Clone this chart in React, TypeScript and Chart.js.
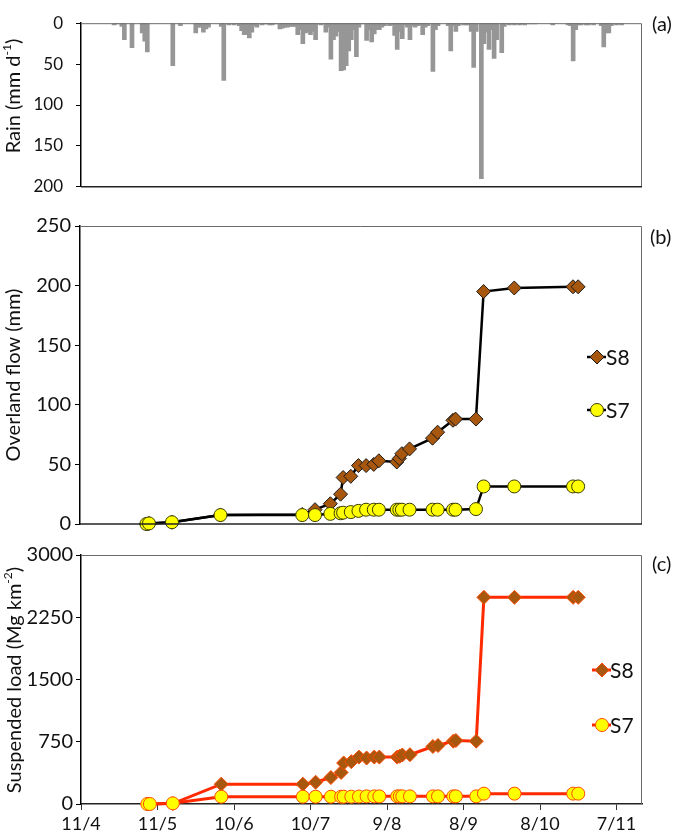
import React, { useEffect, useRef } from "react";
import { Chart, registerables } from "chart.js";
Chart.register(...registerables);

// ---- X axis (days since 11/4) ----
const xTickDays = [0, 30, 60, 90, 120, 150, 180, 210];
const xTickLabels = ["11/4", "11/5", "10/6", "10/7", "9/8", "8/9", "8/10", "7/11"];
const xMax = 220;

// ---- (a) daily rain ----
const rainDays = [13, 14, 16, 17, 20, 24, 25, 26, 36, 39, 45, 46, 47, 48, 49, 50, 55, 56, 58, 60, 62, 63, 64, 65, 66, 67, 68, 69, 71, 72, 73, 74, 75, 76, 78, 79, 80, 81, 82, 83, 84, 85, 86, 87, 88, 89, 90, 91, 92, 94, 96, 97, 98, 99, 100, 101, 102, 103, 104, 105, 106, 107, 108, 109, 110, 112, 113, 114, 115, 116, 117, 118, 119, 121, 122, 123, 124, 125, 126, 127, 128, 129, 130, 131, 132, 133, 134, 135, 136, 138, 139, 140, 144, 145, 146, 147, 148, 150, 151, 152, 153, 154, 155, 157, 158, 159, 160, 161, 162, 163, 165, 166, 168, 169, 170, 172, 173, 174, 176, 178, 185, 191, 192, 193, 194, 195, 196, 198, 199, 201, 204, 205, 206, 207, 208, 210, 212];
const rainMm = [2, 1, 4, 20, 30, 12, 22, 35, 52, 3, 12, 5, 5, 11, 7, 5, 4, 70, 2, 2, 3, 9, 14, 14, 18, 11, 3, 5, 2, 1, 1, 2, 2, 1, 7, 6, 5, 5, 4, 4, 4, 14, 8, 25, 12, 11, 14, 10, 20, 2, 11, 5, 44, 20, 16, 10, 58, 57, 52, 34, 20, 8, 41, 5, 1, 21, 8, 23, 13, 8, 8, 5, 3, 3, 2, 15, 32, 10, 19, 2, 5, 20, 3, 5, 3, 2, 14, 5, 3, 59, 8, 3, 3, 34, 3, 10, 3, 2, 2, 2, 10, 54, 10, 190, 25, 11, 32, 8, 43, 20, 36, 4, 2, 1, 2, 2, 1, 2, 1, 1, 2, 2, 3, 46, 8, 2, 2, 2, 2, 2, 3, 29, 12, 12, 3, 2, 2];

// ---- (b),(c) sampling dates ----
const sampleDays = [26, 27, 36, 55, 87, 92, 98, 102, 103, 106, 109, 112, 115, 117, 124, 125, 126, 129, 138, 140, 146, 147, 155, 158, 170, 193, 195];
// (b) overland flow, mm
const flowS8 = [0, 0.5, 1.5, 7.5, 8, 12, 17, 25, 39, 40, 49, 49, 50, 53, 52, 55, 59, 63, 72, 77, 87, 88, 88, 195, 198, 199, 199];
const flowS7 = [0, 0.5, 1.5, 7.5, 7.5, 7.5, 8.5, 9, 9.5, 10, 11, 12, 12, 12, 12, 12, 12, 12, 12, 12, 12, 12, 12.5, 31.5, 31.5, 31.5, 31.5];
// (c) suspended load, Mg km-2
const loadS8 = [0, 0, 5, 239, 239, 262, 319, 380, 494, 510, 565, 554, 565, 565, 565, 575, 590, 594, 693, 705, 757, 765, 757, 2490, 2490, 2490, 2490];
const loadS7 = [0, 0, 8, 88, 88, 88, 88, 88, 88, 88, 90, 92, 92, 92, 92, 92, 92, 92, 92, 92, 92, 92, 92, 125, 125, 125, 125];

const FONT = "Lato, 'Open Sans', sans-serif";
const TXT = "#111";
const BROWN = "#A8570F";
const YELLOW = "#FFFF00";
const RED = "#FF2A00";

type Seg = { t: string; sup?: boolean };
type LegItem = { label: string; y: number; kind: "diamond" | "circle"; fill: string; stroke: string; line: string; lw: number };
type Decor = {
  title: Seg[]; titleX: number; titleY: number; titleSize: number;
  tag: string; tagX: number; tagY: number;
  boxBottom: boolean;
  legend?: { items: LegItem[]; x1: number; x2: number; mx: number; tx: number };
};

function marker(ctx: CanvasRenderingContext2D, kind: string, x: number, y: number, fill: string, stroke: string) {
  ctx.beginPath();
  if (kind === "diamond") {
    const r = 7;
    ctx.moveTo(x - r, y); ctx.lineTo(x, y - r); ctx.lineTo(x + r, y); ctx.lineTo(x, y + r); ctx.closePath();
  } else {
    ctx.arc(x, y, 6.5, 0, Math.PI * 2);
  }
  ctx.fillStyle = fill; ctx.fill();
  ctx.strokeStyle = stroke; ctx.lineWidth = 1; ctx.stroke();
}

function makeDecor(d: Decor) {
  return {
    id: "decor",
    afterDraw(chart: any) {
      const ctx: CanvasRenderingContext2D = chart.ctx;
      const a = chart.chartArea;
      ctx.save();
      // box
      ctx.strokeStyle = "#6a6a6a"; ctx.lineWidth = 1;
      ctx.beginPath();
      ctx.moveTo(a.left, a.top + 0.5);
      ctx.lineTo(a.right - 0.5, a.top + 0.5);
      ctx.lineTo(a.right - 0.5, a.bottom);
      ctx.stroke();
      if (d.boxBottom) {
        ctx.strokeStyle = "#222"; ctx.lineWidth = 1.5;
        ctx.beginPath(); ctx.moveTo(a.left, a.bottom); ctx.lineTo(a.right, a.bottom); ctx.stroke();
      }
      // rotated title with superscripts
      const big = `${d.titleSize}px ${FONT}`;
      const small = `${Math.round(d.titleSize * 0.62)}px ${FONT}`;
      ctx.translate(d.titleX, d.titleY);
      ctx.rotate(-Math.PI / 2);
      let total = 0;
      for (const s of d.title) { ctx.font = s.sup ? small : big; total += ctx.measureText(s.t).width; }
      let x = -total / 2;
      ctx.fillStyle = TXT; ctx.textBaseline = "middle"; ctx.textAlign = "left";
      for (const s of d.title) {
        ctx.font = s.sup ? small : big;
        ctx.fillText(s.t, x, s.sup ? -d.titleSize * 0.33 : 0);
        x += ctx.measureText(s.t).width;
      }
      ctx.setTransform(1, 0, 0, 1, 0, 0);
      // panel tag
      ctx.font = `20px ${FONT}`; ctx.fillStyle = TXT; ctx.textAlign = "left"; ctx.textBaseline = "middle";
      ctx.fillText(d.tag, d.tagX, d.tagY);
      // legend
      if (d.legend) {
        const L = d.legend;
        for (const it of L.items) {
          ctx.strokeStyle = it.line; ctx.lineWidth = it.lw;
          ctx.beginPath(); ctx.moveTo(L.x1, it.y); ctx.lineTo(L.x2, it.y); ctx.stroke();
          marker(ctx, it.kind, L.mx, it.y, it.fill, it.stroke);
          ctx.font = `21px ${FONT}`; ctx.fillStyle = TXT; ctx.textAlign = "left"; ctx.textBaseline = "middle";
          ctx.fillText(it.label, L.tx, it.y + 1);
        }
      }
      ctx.restore();
    },
  };
}

function yAxis(min: number, max: number, step: number, width: number, pad: number, size: number, reverse = false) {
  return {
    min, max, reverse,
    ticks: { stepSize: step, padding: pad, color: TXT, font: { family: FONT, size }, callback: (v: any) => String(v) },
    grid: { drawOnChartArea: false, drawTicks: true, tickLength: 5, color: "#000", tickColor: "#000" },
    border: { color: "#000", width: 1.5 },
    afterFit: (s: any) => { s.width = width; },
  };
}

function hiddenX() {
  return { type: "linear", min: 0, max: xMax, display: false, offset: false };
}

function configA(): any {
  return {
    type: "bar",
    data: {
      datasets: [{
        data: rainDays.map((d, i) => ({ x: d, y: rainMm[i] })),
        backgroundColor: "#969696", borderWidth: 0, barThickness: 4,
      }],
    },
    options: {
      responsive: false, animation: false, devicePixelRatio: 1,
      layout: { padding: { top: 13, bottom: 11, left: 0, right: 33 } },
      plugins: { legend: { display: false }, tooltip: { enabled: false } },
      scales: { x: hiddenX(), y: yAxis(0, 200, 50, 81, 13, 17, true) },
    },
    plugins: [makeDecor({
      title: [{ t: "Rain (mm d" }, { t: "-1", sup: true }, { t: ")" }],
      titleX: 14, titleY: 96, titleSize: 20,
      tag: "(a)", tagX: 652, tagY: 25, boxBottom: true,
    })],
  };
}

function lineSet(days: number[], vals: number[], kind: "diamond" | "circle", lineColor: string, ptStroke: string, lw: number) {
  return {
    data: days.map((d, i) => ({ x: d, y: vals[i] })),
    borderColor: lineColor, borderWidth: lw, tension: 0, clip: false,
    pointStyle: kind === "diamond" ? "rectRot" : "circle",
    pointRadius: kind === "diamond" ? 7 : 6.5,
    pointBackgroundColor: kind === "diamond" ? BROWN : YELLOW,
    pointBorderColor: ptStroke, pointBorderWidth: 1,
  };
}

function configB(): any {
  return {
    type: "line",
    data: {
      datasets: [
        lineSet(sampleDays, flowS7, "circle", "#000", "#3a3a00", 2.5),
        lineSet(sampleDays, flowS8, "diamond", "#000", "#1a1a1a", 2.5),
      ],
    },
    options: {
      responsive: false, animation: false, devicePixelRatio: 1,
      layout: { padding: { top: 15, bottom: 14, left: 0, right: 33 } },
      plugins: { legend: { display: false }, tooltip: { enabled: false } },
      scales: { x: hiddenX(), y: yAxis(0, 250, 50, 80, 4, 20) },
    },
    plugins: [makeDecor({
      title: [{ t: "Overland flow (mm)" }],
      titleX: 14, titleY: 165, titleSize: 20,
      tag: "(b)", tagX: 650, tagY: 28, boxBottom: true,
      legend: {
        x1: 587, x2: 606, mx: 597, tx: 606,
        items: [
          { label: "S8", y: 147, kind: "diamond", fill: BROWN, stroke: "#1a1a1a", line: "#000", lw: 2.5 },
          { label: "S7", y: 200, kind: "circle", fill: YELLOW, stroke: "#3a3a00", line: "#000", lw: 2.5 },
        ],
      },
    })],
  };
}

function configC(): any {
  return {
    type: "line",
    data: {
      datasets: [
        lineSet(sampleDays, loadS7, "circle", RED, "#FF4A00", 3),
        lineSet(sampleDays, loadS8, "diamond", RED, "#FF4A00", 3),
      ],
    },
    options: {
      responsive: false, animation: false, devicePixelRatio: 1,
      layout: { padding: { top: 13, bottom: 0, left: 0, right: 33 } },
      plugins: { legend: { display: false }, tooltip: { enabled: false } },
      scales: {
        x: {
          type: "linear", min: 0, max: xMax, offset: false,
          afterBuildTicks: (s: any) => { s.ticks = xTickDays.map((v) => ({ value: v })); },
          ticks: {
            padding: 3, color: TXT, font: { family: FONT, size: 18 }, maxRotation: 0, autoSkip: false,
            callback: (v: any) => xTickLabels[xTickDays.indexOf(Number(v))] ?? "",
          },
          grid: { drawOnChartArea: false, drawTicks: true, tickLength: 6, color: "#333", tickColor: "#333" },
          border: { color: "#222", width: 1.5 },
          afterFit: (s: any) => { s.height = 34; },
        },
        y: yAxis(0, 3000, 750, 81, 3, 20),
      },
    },
    plugins: [makeDecor({
      title: [{ t: "Suspended load (Mg km" }, { t: "-2", sup: true }, { t: ")" }],
      titleX: 15, titleY: 140, titleSize: 20,
      tag: "(c)", tagX: 652, tagY: 25, boxBottom: false,
      legend: {
        x1: 592, x2: 611, mx: 602, tx: 610,
        items: [
          { label: "S8", y: 130, kind: "diamond", fill: BROWN, stroke: "#FF4A00", line: RED, lw: 3 },
          { label: "S7", y: 185, kind: "circle", fill: YELLOW, stroke: "#FF4A00", line: RED, lw: 3 },
        ],
      },
    })],
  };
}

function Panel({ top, height, build }: { top: number; height: number; build: () => any }) {
  const ref = useRef<HTMLCanvasElement>(null);
  useEffect(() => {
    const chart = new Chart(ref.current as HTMLCanvasElement, build());
    return () => chart.destroy();
  }, []);
  return (
    <canvas
      ref={ref}
      width={675}
      height={height}
      style={{ position: "absolute", left: 0, top, width: 675, height, display: "block" }}
    />
  );
}

export default function App() {
  return (
    <div style={{ position: "absolute", left: 0, top: 0, width: 675, height: 838, background: "#fff" }}>
      <Panel top={0} height={210} build={configA} />
      <Panel top={210} height={330} build={configB} />
      <Panel top={540} height={298} build={configC} />
    </div>
  );
}
